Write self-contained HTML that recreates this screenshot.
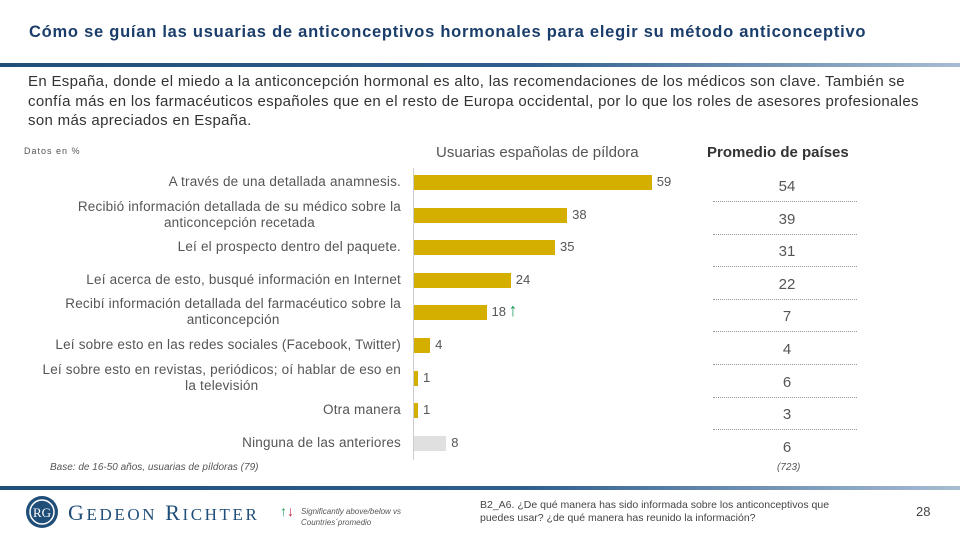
<!DOCTYPE html>
<html><head><meta charset="utf-8"><style>
body{margin:0;width:960px;height:540px;background:#fff;font-family:"Liberation Sans",sans-serif;position:relative;overflow:hidden;color:#444}
.abs{position:absolute}
#title{left:29px;top:23px;font-size:16.5px;font-weight:bold;color:#1a3d6b;letter-spacing:0.75px;white-space:nowrap}
.rule{left:0;width:960px;height:4px;background:linear-gradient(90deg,#1f4e79 0%,#2f5f8f 55%,#a8bdd3 100%)}
#sub{left:28px;top:72px;width:930px;font-size:15px;line-height:19.5px;color:#333;white-space:nowrap;letter-spacing:0.32px}
.lbl{position:absolute;right:559px;font-size:13.5px;color:#555;text-align:center;line-height:16px;white-space:nowrap;letter-spacing:0.2px}
.v{position:absolute;font-size:13px;color:#555}
.rv{position:absolute;left:740px;width:94px;text-align:center;font-size:15px;color:#555}
.dot{position:absolute;left:713px;width:144px;border-top:1px dotted #999}
</style></head><body>
<div class="abs" id="title">Cómo se guían las usuarias de anticonceptivos hormonales para elegir su método anticonceptivo</div>
<div class="abs rule" style="top:63px"></div>
<div class="abs" id="sub">En España, donde el miedo a la anticoncepción hormonal es alto, las recomendaciones de los médicos son clave. También se<br>confía más en los farmacéuticos españoles que en el resto de Europa occidental, por lo que los roles de asesores profesionales<br>son más apreciados en España.</div>
<div class="abs" style="left:24px;top:146px;font-size:9px;color:#555;letter-spacing:1px">Datos en %</div>
<div class="abs" style="left:436px;top:144px;font-size:15px;color:#555">Usuarias españolas de píldora</div>
<div class="abs" style="left:707px;top:144px;font-size:15px;color:#333;font-weight:bold">Promedio de países</div>
<div class="abs" style="left:413px;top:168px;width:1px;height:292px;background:#ccc"></div>
<div id="chart"></div>
<div class="abs" style="left:50px;top:462px;font-size:10px;font-style:italic;color:#555">Base: de 16-50 años, usuarias de píldoras (79)</div>
<div class="abs" style="left:777px;top:462px;font-size:10px;font-style:italic;color:#555">(723)</div>
<div class="abs rule" style="top:486px"></div>
<svg class="abs" style="left:24px;top:494px" width="36" height="36"><circle cx="18" cy="18" r="16" fill="#1f4e79"/><circle cx="18" cy="18" r="12" fill="none" stroke="#fff" stroke-width="1.5"/><text x="18" y="23" font-size="13" fill="#fff" text-anchor="middle" font-family="Liberation Serif">RG</text></svg>
<div class="abs" style="left:68px;top:500px;font-family:'Liberation Serif',serif;font-size:22px;color:#1f4e79;letter-spacing:2.6px;white-space:nowrap">G<span style="font-size:17px">EDEON</span> R<span style="font-size:17px">ICHTER</span></div>
<div class="abs" style="left:280px;top:503px;font-size:14px;font-weight:bold"><span style="color:#1a9a5a">↑</span><span style="color:#c0203a">↓</span></div>
<div class="abs" style="left:301px;top:506px;font-size:8px;font-style:italic;color:#555;line-height:11px">Significantly above/below vs<br>Countries´promedio</div>
<div class="abs" style="left:480px;top:499px;font-size:10.5px;color:#444;line-height:13px;white-space:nowrap">B2_A6. ¿De qué manera has sido informada sobre los anticonceptivos que<br>puedes usar? ¿de qué manera has reunido la información?</div>
<div class="abs" style="left:916px;top:504px;font-size:13px;color:#444">28</div>
<script>
const categories=["A través de una detallada anamnesis.","Recibió información detallada de su médico sobre la<br>anticoncepción recetada","Leí el prospecto dentro del paquete.","Leí acerca de esto, busqué información en Internet","Recibí información detallada del farmacéutico sobre la<br>anticoncepción","Leí sobre esto en las redes sociales (Facebook, Twitter)","Leí sobre esto en revistas, periódicos; oí hablar de eso en<br>la televisión","Otra manera","Ninguna de las anteriores"];
const spainValues=[59,38,35,24,18,4,1,1,8];
const averageValues=[54,39,31,22,7,4,6,3,6];
const significance=[0,0,0,0,1,0,0,0,0];
const greyBar=[0,0,0,0,0,0,0,0,1];
const x=v=>414+v*4.03;
const y=i=>182+i*32.6;
const c=document.getElementById('chart');
categories.forEach((cat,i)=>{
  const cy=y(i);
  const l=document.createElement('div');l.className='lbl';l.innerHTML=cat;
  const lines=cat.includes('<br>')?2:1;
  l.style.top=(cy-8*lines)+'px';
  
  
  c.appendChild(l);
  const b=document.createElement('div');b.className='abs';
  b.style.cssText=`left:414px;top:${cy-7}px;height:15px;width:${x(spainValues[i])-414}px;background:${greyBar[i]?'#e0e0e0':'#d4af00'}`;
  
  
  c.appendChild(b);
  const v=document.createElement('div');v.className='v';v.textContent=spainValues[i];
  v.style.left=(x(spainValues[i])+5)+'px';v.style.top=(cy-8)+'px';
  
  
  c.appendChild(v);
  if(significance[i]){
    const a=document.createElement('div');a.className='abs';a.textContent='↑';
    a.style.cssText=`left:${x(spainValues[i])+22}px;top:${cy-12}px;font-size:18px;color:#1a9a5a;font-weight:bold`;
    
    
    c.appendChild(a);
  }
  const r=document.createElement('div');r.className='rv';r.textContent=averageValues[i];
  r.style.top=(cy-4)+'px';
  
  
  c.appendChild(r);
  if(i<categories.length-1){
    const d=document.createElement('div');d.className='dot';d.style.top=(cy+19)+'px';
    
    
    c.appendChild(d);
  }
});
</script>
</body></html>
